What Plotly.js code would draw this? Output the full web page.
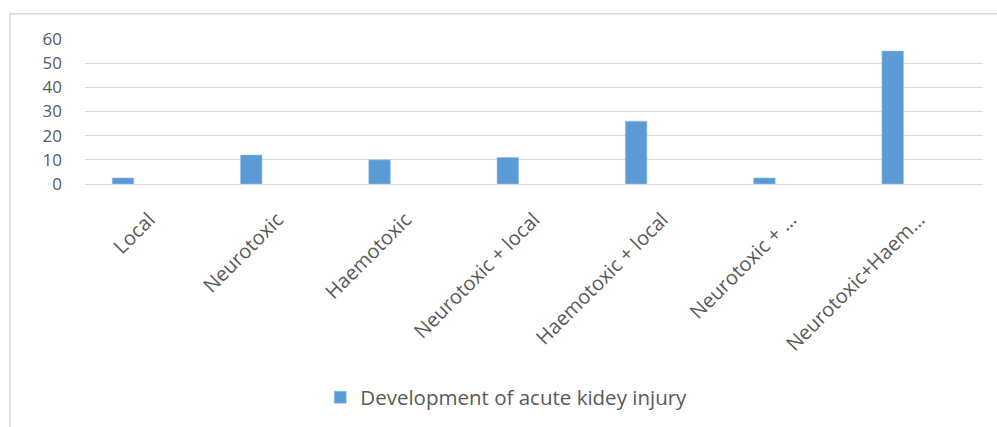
<!DOCTYPE html>
<html>
<head>
<meta charset="utf-8">
<script src="https://cdn.plot.ly/plotly-3.0.1.min.js"></script>
<style>html,body{margin:0;padding:0;background:#fff;}#chart{width:997px;height:427px;}</style>
</head>
<body>
<div id="chart"></div>
<script>
const categories = ["Local", "Neurotoxic", "Haemotoxic", "Neurotoxic + local", "Haemotoxic + local", "Neurotoxic + …", "Neurotoxic+Haem…"];
const aki = [2.5, 12, 10, 11, 26, 2.5, 55];
const seriesName = "Development of acute kidey injury";
const yTicks = [0, 10, 20, 30, 40, 50, 60];

const font = "'Open Sans', sans-serif";
const data = [{
  type: "bar",
  x: categories,
  y: aki,
  name: seriesName,
  marker: {color: "#5b9bd5", line: {color: "#9dc3e6", width: 0.6}},
  width: 0.168,
  offset: -0.288,
  hoverinfo: "x+y"
}];

const layout = {
  width: 997, height: 427,
  margin: {l: 85, r: 14, t: 38.5, b: 242},
  paper_bgcolor: "#ffffff", plot_bgcolor: "#ffffff",
  font: {family: font, color: "#595959", size: 18},
  showlegend: true,
  legend: {orientation: "h", x: 0.262, xanchor: "left", y: -1.455, yanchor: "middle",
    font: {size: 20.5, color: "#595959"}, itemwidth: 30},
  xaxis: {type: "category", tickangle: -45, showgrid: false, zeroline: false,
    showline: false, ticks: "", ticklabelstandoff: 19,
    tickfont: {size: 20, color: "#595959"}},
  yaxis: {range: [0, 60], tickvals: yTicks, ticktext: yTicks.map(String), showgrid: true,
    gridcolor: "#d9d9d9", gridwidth: 1, zeroline: true, zerolinecolor: "#d9d9d9",
    zerolinewidth: 1, showline: false, ticks: "", ticklabelstandoff: 22,
    tickfont: {size: 17, color: "#595959"}},
  shapes: [{type: "rect", xref: "paper", yref: "paper",
    x0: -0.0835, x1: 1.03, y0: -1.7, y1: 1.174,
    line: {color: "#d9d9d9", width: 1.5}, fillcolor: "rgba(0,0,0,0)", layer: "below"}]
};

Plotly.newPlot("chart", data, layout, {displayModeBar: false, staticPlot: true});
</script>
</body>
</html>
